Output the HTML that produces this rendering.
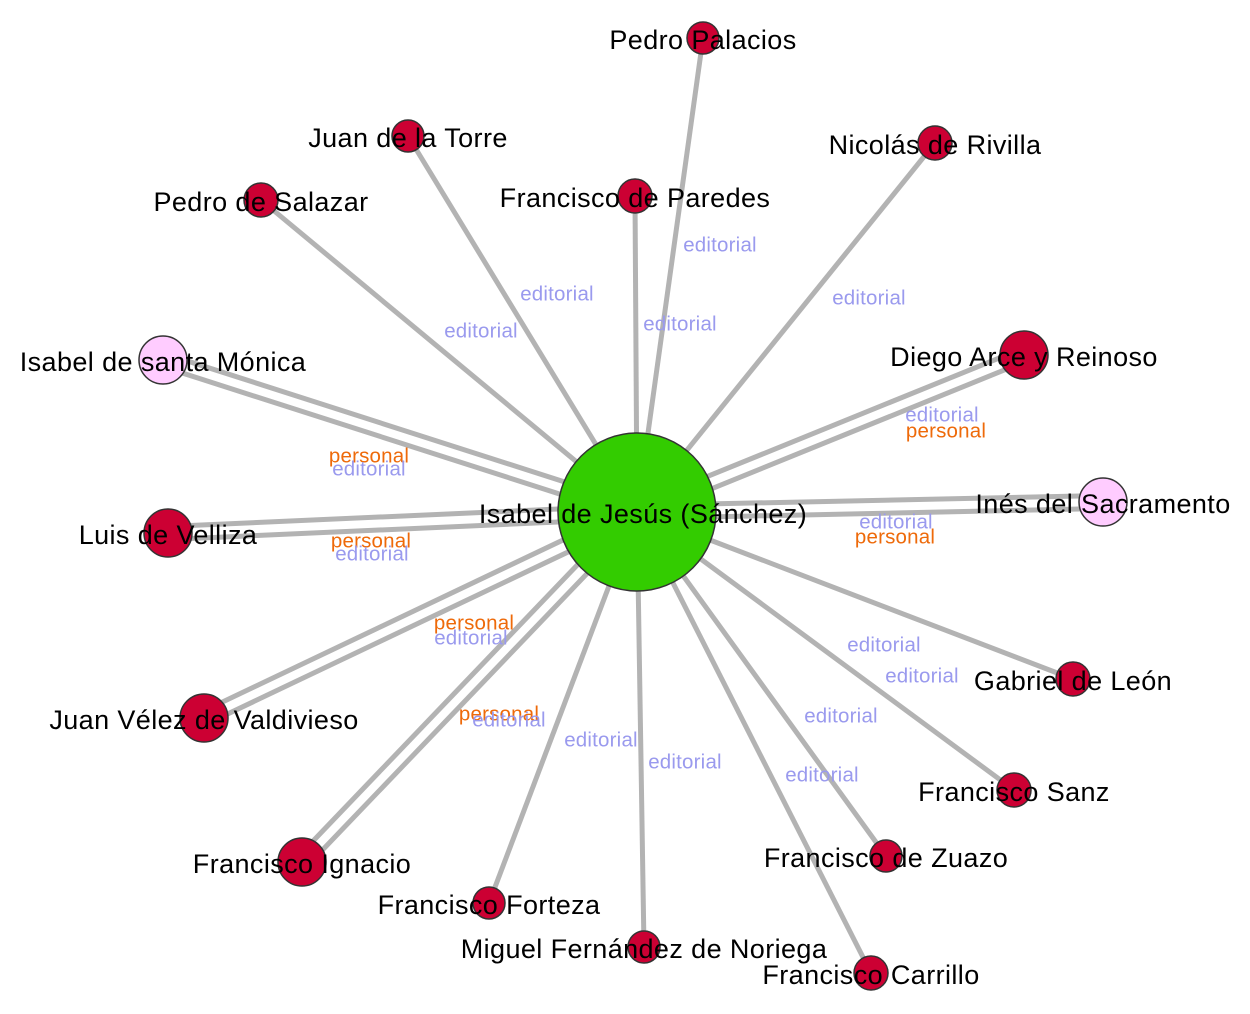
<!DOCTYPE html>
<html><head><meta charset="utf-8"><style>
html,body{margin:0;padding:0;background:#fff;width:1250px;height:1014px;overflow:hidden}
svg{display:block}
.n{font-family:"Liberation Sans",Arial,sans-serif;font-size:27px;letter-spacing:0.4px;fill:#000;text-anchor:middle;dominant-baseline:central}
.e{font-family:"Liberation Sans",Arial,sans-serif;font-size:20.5px;letter-spacing:0.2px;text-anchor:middle;dominant-baseline:central}
.ed{fill:#9a9aee}.pe{fill:#ee6a0a}
</style></head><body>
<svg id="s" width="1250" height="1014" viewBox="0 0 1250 1014" xmlns="http://www.w3.org/2000/svg">
<g id="edges" stroke="#b3b3b3" stroke-width="5" fill="none"></g>
<g id="nodes" stroke="#333" stroke-width="1.5"></g>
<g id="labels"></g>
</svg>
<script>
var C=[637,512];
var N=[
["Pedro Palacios",703,38,16,"r",1],
["Juan de la Torre",408,136,16,"r",1],
["Nicolás de Rivilla",935,143,17,"r",1],
["Pedro de Salazar",261,200,17,"r",1],
["Francisco de Paredes",635,196,17,"r",1],
["Isabel de santa Mónica",163,360,24,"p",2],
["Diego Arce y Reinoso",1024,355,24,"r",2],
["Inés del Sacramento",1103,502,24,"p",2],
["Luis de Velliza",168,533,24,"r",2],
["Gabriel de León",1073,679,17,"r",1],
["Juan Vélez de Valdivieso",204,718,24,"r",2],
["Francisco Sanz",1014,790,17,"r",1],
["Francisco Ignacio",302,862,24,"r",2],
["Francisco de Zuazo",886,856,16,"r",1],
["Francisco Forteza",489,903,16,"r",1],
["Miguel Fernández de Noriega",644,947,16,"r",1],
["Francisco Carrillo",871,973,17,"r",1]
];
var E=[
["ed",720,245],["ed",557,294],["ed",869,298],["ed",481,331],["ed",680,324],
["pe",369,456],["ed",369,469],["ed",942,415],["pe",946,431],
["ed",896,522],["pe",895,537],["pe",371,541],["ed",372,554],
["pe",474,623],["ed",471,638],["pe",499,714],["ed",509,720],
["ed",601,740],["ed",685,762],["ed",822,775],["ed",841,716],["ed",922,676],["ed",884,645]
];
var ns="http://www.w3.org/2000/svg";
function el(t,a,p){var e=document.createElementNS(ns,t);for(var k in a)e.setAttribute(k,a[k]);p.appendChild(e);return e;}
var eg=document.getElementById("edges"),ng=document.getElementById("nodes"),lg=document.getElementById("labels");
N.forEach(function(n){
 var dx=n[1]-C[0],dy=n[2]-C[1],L=Math.hypot(dx,dy),px=-dy/L,py=dx/L;
 var offs=n[5]==2?[-6.5,6.5]:[0];
 offs.forEach(function(o){el("line",{x1:C[0]+px*o,y1:C[1]+py*o,x2:n[1]+px*o,y2:n[2]+py*o},eg);});
});
N.forEach(function(n){
 el("circle",{cx:n[1],cy:n[2],r:n[3],fill:n[4]=="p"?"#ffccff":"#cc0033"},ng);
});
el("circle",{cx:C[0],cy:C[1],r:79,fill:"#33cc00"},ng);
E.forEach(function(e){var t=el("text",{x:e[1],y:e[2],"class":"e "+e[0]},lg);t.textContent=e[0]=="ed"?"editorial":"personal";});
N.forEach(function(n){var t=el("text",{x:n[1],y:n[2]+2,"class":"n"},lg);t.textContent=n[0];});
var t=el("text",{x:C[0]+6,y:C[1]+2,"class":"n"},lg);t.textContent="Isabel de Jesús (Sánchez)";
</script>
</body></html>
